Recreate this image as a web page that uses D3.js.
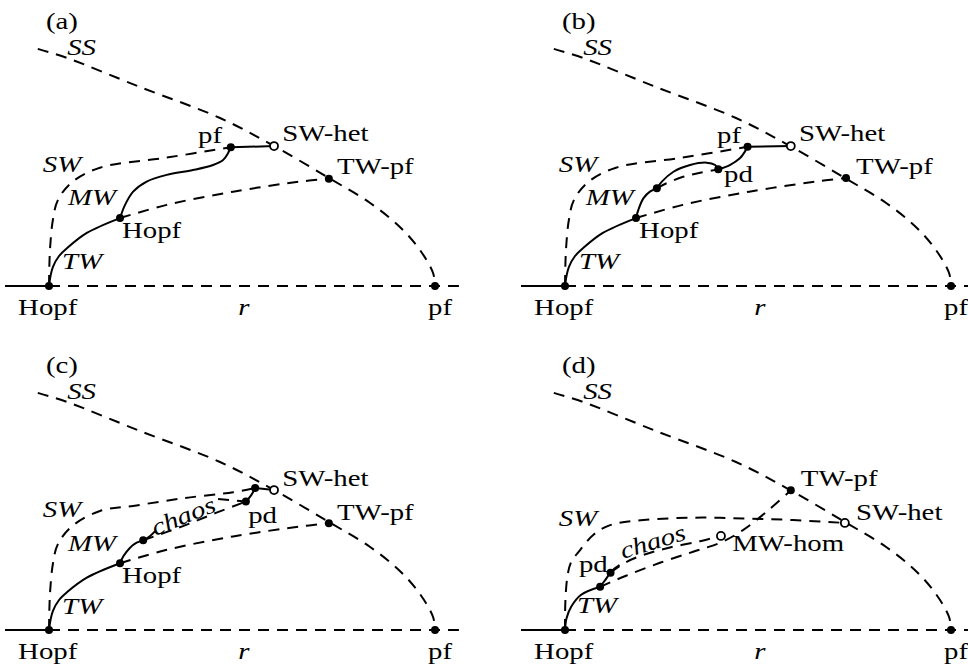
<!DOCTYPE html>
<html><head><meta charset="utf-8">
<script src="https://cdn.jsdelivr.net/npm/d3@7"></script>
<style>
body{margin:0;background:#fff}
svg{display:block}
</style>
</head><body>
<svg id="chart" width="968" height="671"></svg>
<script>
// ---------- data (r: Hopf=0 .. pf=100, A: amplitude, schematic units) ----------
const panelNames = ["(a)","(b)","(c)","(d)"];
const italicWords = ["SS","SW","MW","TW","r","chaos"];
const chaosTilt = [0, 0, -22, -17];

const baseSolid  = [[-11.4,0],[0,0]];
const baseDashed = [[0,0],[106.2,0]];
const SS = [[-2.9,98.8],[4.7,95],[23.6,82.9],[44.3,70],[58.3,58.3],[72.5,45],[83.2,34.6],[90.9,24.6],[96.1,15],[99.5,5.4],[100,0]];
const bottomLabels = [["Hopf",-8,-12],["r",49,-12],["pf",98.2,-12]];

// panel (a)
const aSW   = [[0,0],[0.1,8.8],[0.3,16.3],[1.0,27.5],[2.3,35.8],[6.0,43.3],[13.2,49.3],[30.5,53.5],[47.1,57.8]];
const aSWs  = [[47.1,57.8],[58.3,58.3]];
const aTW   = [[0,0],[0.4,4.2],[1.0,7.9],[2.6,12.5],[4.7,15.8],[9.8,22.1],[18.4,28.3]];
const aTWd  = [[18.4,28.3],[30.5,33.8],[47.7,39.3],[65,43.5],[72.5,44.7]];
const aMW   = [[18.4,28.3],[19.7,33.8],[21.8,39.3],[25.3,43.5],[30.5,46.3],[37.3,48.3],[42.5,50.4],[45.1,52.5],[46.4,55.4],[47.1,57.8]];
const aDots = [[0,0],[100,0],[18.4,28.3],[47.1,57.8],[72.5,44.7]];
const aOpen = [[58.3,58.3]];
const aLabels = [["(a)",-0.8,107.1],["SS",4.7,96.2],["SW",-1.6,47.5],["MW",4.9,33.8],["TW",3.4,7.1],
  ["Hopf",18.9,20],["pf",38.6,59.6],["SW-het",60.4,60.4],["TW-pf",74.6,46.7]];

// panel (b)
const bSW   = [[0,0],[0.1,8.8],[0.3,16.3],[1.0,27.5],[2.3,35.8],[6.0,43.3],[13.2,49.3],[30.5,53.5],[47.3,58]];
const bSWs  = [[47.3,58],[58.5,58.3]];
const bTW   = [[0,0],[0.4,4.2],[1.0,7.9],[2.6,12.5],[4.7,15.8],[9.8,22.1],[18.4,28.3]];
const bTWd  = [[18.4,28.3],[30.5,33.8],[47.7,39.3],[65,43.5],[72.8,45]];
const bMW   = [[18.4,28.3],[19.0,31.7],[20.3,36.5],[22,39.3],[23.8,40.7]];
const bLoop = [[23.8,40.7],[25.1,43.5],[28.1,47.6],[32.4,50.4],[36.7,51.4],[38.9,50.4],[39.7,48.6]];
const bMWd  = [[23.8,40.7],[26.3,42.8],[30.6,45.5],[35,47.2],[39.7,48.6]];
const bPF   = [[39.7,48.6],[42.7,50.4],[45.3,53.2],[46.6,56],[47.3,58]];
const bDots = [[0,0],[100,0],[18.4,28.3],[23.8,40.7],[39.7,48.6],[47.3,58],[72.8,45]];
const bOpen = [[58.5,58.3]];
const bLabels = [["(b)",-0.8,107.1],["SS",4.7,96.2],["SW",-1.6,47.5],["MW",5.4,33.8],["TW",3.6,7.1],
  ["Hopf",19.2,20],["pf",39.4,59.6],["pd",41.2,43.3],["SW-het",60.6,60.4],["TW-pf",75.4,46.7]];

// panel (c)
const cSW   = [[0,0],[0.1,8.8],[0.3,16.3],[1.0,27.5],[2.3,35.8],[6.0,43.3],[13.2,49.6],[21.8,51.7],[34.7,54.9],[47.7,57.4],[53.4,59.2]];
const cSWs  = [[53.4,59.2],[58.3,58.3]];
const cTW   = [[0,0],[0.4,4.2],[1.0,7.9],[2.6,12.5],[4.7,15.8],[9.8,21.8],[18.4,27.8]];
const cTWd  = [[18.4,27.8],[30.5,33.4],[47.7,39],[65,43.1],[72.5,44.5]];
const cMW   = [[18.4,27.8],[19.3,30.8],[21,34.3],[22.7,36.4],[24.4,37.4],[26.2,39.2],[27.5,41.2]];
const cMWd  = [[24.4,37.4],[34.7,43.3],[43.4,48.9],[51,53.5]];
const cTail = [[43.8,54.6],[51,53.5]];
const cPF   = [[51,53.5],[52.4,56.2],[53.4,59.2]];
const cDots = [[0,0],[100,0],[18.4,27.8],[24.4,37.4],[51,53.5],[53.4,59.2],[72.5,44.5]];
const cOpen = [[58.3,58.3]];
const cLabels = [["(c)",-0.8,107.1],["SS",4.7,96.2],["SW",-1.6,47.1],["MW",4.9,32.9],["TW",3.4,6.7],
  ["Hopf",18.9,19.6],["chaos",27.5,39.2],["pd",51.6,44.6],["SW-het",60.4,60],["TW-pf",74.6,45.8]];

// panel (d)
const dSW   = [[0,0],[0.1,12],[0.6,22],[1.5,28],[3.9,33.3],[7.3,39.6],[11.7,43.7],[20.3,45.8],[33.2,46.8],[46.2,46.5],[59.1,45.8],[72.5,44.6]];
const dTW   = [[0,0],[0.4,4.9],[1.6,9.7],[4.1,14.6],[9.1,18]];
const dTWd  = [[9.1,18],[15.8,22.6],[24.6,28],[33.2,32.6],[40.4,36.5],[46,41.5],[52.4,49.5],[58.5,58.2]];
const dMW   = [[9.1,18],[10.4,20.8],[11.8,23.9],[12.9,25.7],[14.1,27.1]];
const dMWd  = [[11.8,23.9],[15.5,28],[20.3,31.3],[27.2,34.4],[35,37],[40.4,39.2]];
const dDots = [[0,0],[100,0],[9.1,18],[11.8,23.9],[58.5,58.2]];
const dOpen = [[72.5,44.6],[40.4,39.2]];
const dLabels = [["(d)",-0.8,107.1],["SS",4.7,96.2],["SW",-1.6,43.3],["pd",3.6,24.2],["chaos",15,29.6],
  ["TW",3.1,7.1],["TW-pf",61.1,60],["SW-het",75.4,45.8],["MW-hom",43.3,32.9]];

// ---------- panel specs built from the arrays ----------
const specs = [
  {solid:[baseSolid,aSWs,aTW,aMW], dashed:[baseDashed,SS,aSW,aTWd], dots:aDots, open:aOpen, labels:aLabels},
  {solid:[baseSolid,bSWs,bTW,bMW,bLoop,bPF], dashed:[baseDashed,SS,bSW,bTWd,bMWd], dots:bDots, open:bOpen, labels:bLabels},
  {solid:[baseSolid,cSWs,cTW,cMW,cPF], dashed:[baseDashed,SS,cSW,cTWd,cMWd,cTail], dots:cDots, open:cOpen, labels:cLabels},
  {solid:[baseSolid,dTW,dMW], dashed:[baseDashed,SS,dSW,dTWd,dMWd], dots:dDots, open:dOpen, labels:dLabels}
];
const offsets = [[0,0],[516,0],[0,344],[516,344]];

const x = d3.scaleLinear().domain([0,100]).range([49,435]);
const y = d3.scaleLinear().domain([0,100]).range([286,46]);
const line = d3.line().x(d=>x(d[0])).y(d=>y(d[1])).curve(d3.curveCatmullRom.alpha(0.5));

const svg = d3.select("#chart");
svg.append("rect").attr("width",968).attr("height",671).attr("fill","#fff");

specs.forEach((s,i)=>{
  const g = svg.append("g").attr("transform",`translate(${offsets[i][0]},${offsets[i][1]})`);
  g.selectAll("path.dash").data(s.dashed).join("path").attr("class","dash")
    .attr("d",line).attr("fill","none").attr("stroke","#000").attr("stroke-width",2)
    .attr("stroke-dasharray","11,8");
  g.selectAll("path.solid").data(s.solid).join("path").attr("class","solid")
    .attr("d",line).attr("fill","none").attr("stroke","#000").attr("stroke-width",2);
  g.selectAll("circle.dot").data(s.dots).join("circle").attr("class","dot")
    .attr("cx",d=>x(d[0])).attr("cy",d=>y(d[1])).attr("r",4).attr("fill","#000");
  g.selectAll("circle.open").data(s.open).join("circle").attr("class","open")
    .attr("cx",d=>x(d[0])).attr("cy",d=>y(d[1])).attr("r",4).attr("fill","#fff")
    .attr("stroke","#000").attr("stroke-width",1.8);
  const labs = s.labels.concat(bottomLabels);
  g.selectAll("text").data(labs).join("text")
    .attr("transform",d=>`translate(${x(d[1])},${y(d[2])}) rotate(${d[0]==="chaos"?chaosTilt[i]:0}) scale(1.2,1)`)
    .attr("font-family","Liberation Serif, Times New Roman, serif")
    .attr("font-size",24)
    .attr("fill","#000")
    .attr("font-style",d=>italicWords.includes(d[0])?"italic":"normal")
    .text(d=>d[0]);
});
</script>
</body></html>
